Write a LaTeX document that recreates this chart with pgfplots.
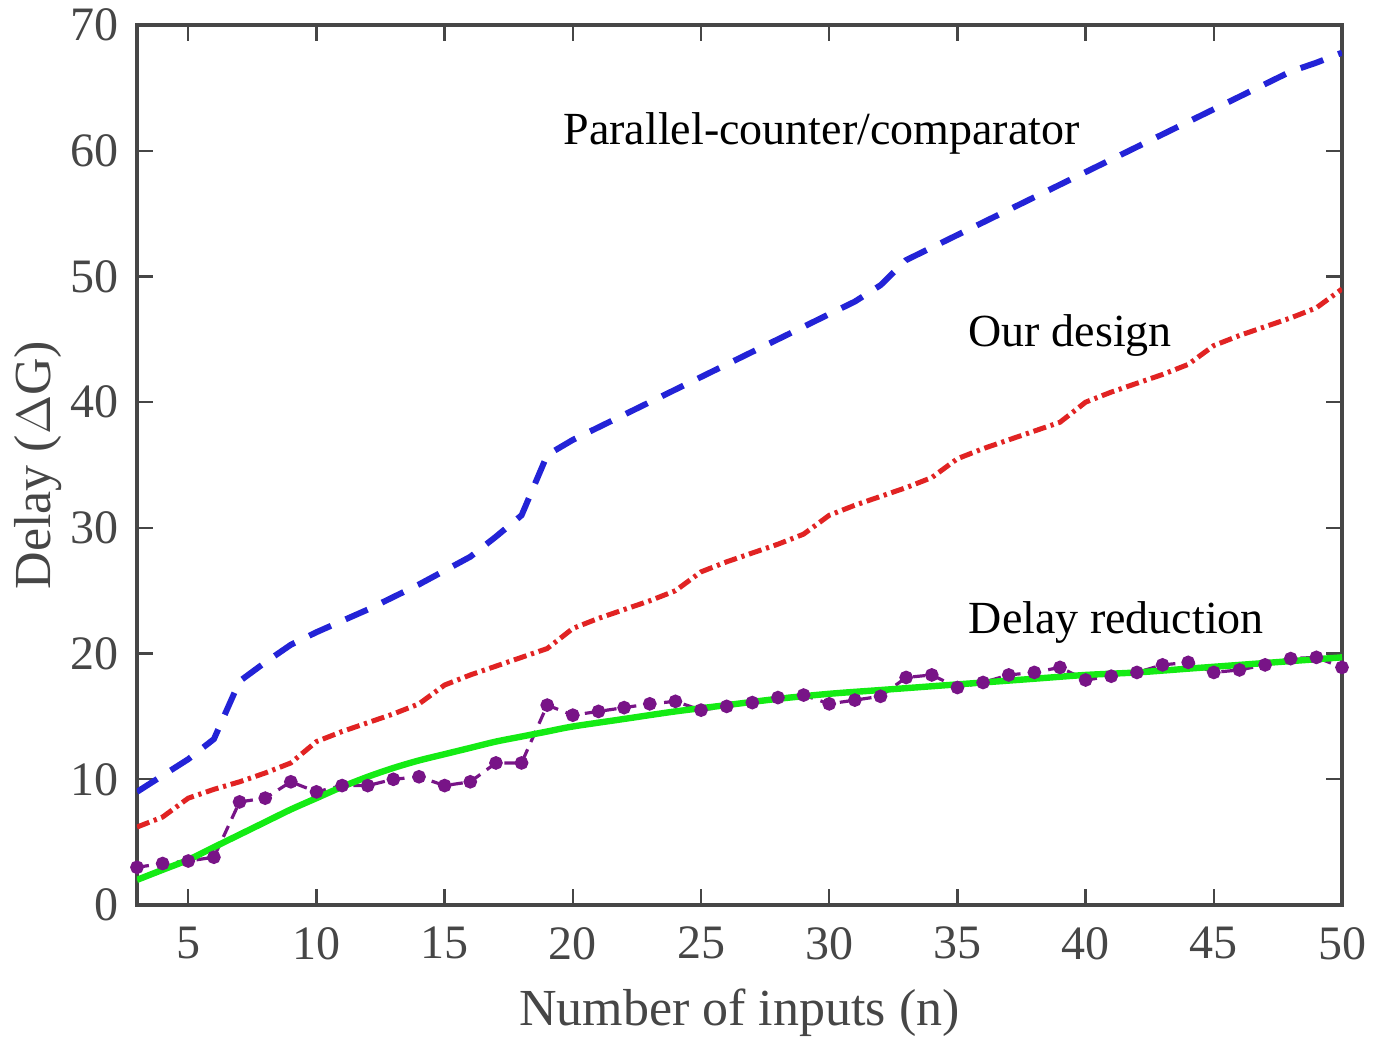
\documentclass[border=0pt]{standalone}
\usepackage{pgfplots}
\pgfplotsset{compat=1.18}
\usepackage{fontspec}
\setmainfont{Liberation Serif}
\definecolor{cblue}{RGB}{35,35,215}
\definecolor{cred}{RGB}{225,35,35}
\definecolor{cpurple}{RGB}{120,20,135}
\definecolor{cgreen}{RGB}{20,235,20}
\definecolor{caxis}{RGB}{70,70,70}
\begin{document}
\begin{tikzpicture}
\begin{axis}[
  scale only axis,
  width=301.25pt, height=220pt,
  xmin=3, xmax=50, ymin=0, ymax=70,
  xtick={5,10,...,50}, ytick={0,10,...,70},
  tick align=inside,
  major tick length=4pt,
  axis line style={caxis, line width=0.8pt},
  every tick/.style={caxis, line width=0.6pt},
  tick label style={font=\fontsize{12}{14}\selectfont, text=caxis},
  /pgf/number format/assume math mode=true,
  xticklabel style={yshift=-2pt},
  yticklabel style={xshift=-1pt},
  xlabel={Number of inputs (n)},
  ylabel={Delay ($\Delta$G)},
  label style={font=\fontsize{13}{15}\selectfont, text=caxis},
  xlabel style={yshift=-0.5pt},
  ylabel style={yshift=-4.5pt},
  clip=true,
]
% Parallel-counter/comparator
\addplot[cblue, line width=1.5pt, dash pattern=on 6pt off 4pt] coordinates {
(3,9.0)(4,10.3)(5,11.6)(6,13.2)(7,17.8)(8,19.3)(9,20.7)(10,21.7)(11,22.6)(12,23.5)
(13,24.5)(14,25.5)(15,26.6)(16,27.7)(17,29.3)(18,31.0)(19,35.8)(20,37.0)(21,38.0)
(22,39.0)(23,40.0)(24,41.0)(25,42.0)(26,43.0)(27,44.0)(28,45.0)(29,46.0)(30,47.0)
(31,48.0)(32,49.3)(33,51.3)(34,52.3)(35,53.3)(36,54.3)(37,55.3)(38,56.3)(39,57.3)
(40,58.3)(41,59.3)(42,60.3)(43,61.3)(44,62.3)(45,63.3)(46,64.3)(47,65.3)(48,66.3)
(49,67.0)(50,67.8)};
% Our design
\addplot[cred, line width=1.25pt, dash pattern=on 3.3pt off 1.2pt on 0.8pt off 1.2pt] coordinates {
(3,6.2)(4,7.0)(5,8.5)(6,9.2)(7,9.8)(8,10.5)(9,11.3)(10,13.0)(11,13.8)(12,14.5)
(13,15.2)(14,16.0)(15,17.5)(16,18.3)(17,19.0)(18,19.7)(19,20.4)(20,22.0)(21,22.8)
(22,23.5)(23,24.2)(24,25.0)(25,26.5)(26,27.3)(27,28.0)(28,28.7)(29,29.5)(30,31.0)
(31,31.8)(32,32.5)(33,33.2)(34,34.0)(35,35.5)(36,36.3)(37,37.0)(38,37.7)(39,38.4)
(40,40.0)(41,40.8)(42,41.5)(43,42.2)(44,43.0)(45,44.5)(46,45.3)(47,46.0)(48,46.7)
(49,47.5)(50,49.0)};
% Delay reduction (data)
\addplot[cpurple, line width=0.8pt, dash pattern=on 3pt off 2pt, mark=*, mark size=1.3pt,
  mark options={solid, fill=cpurple}] coordinates {
(3,3.0)(4,3.3)(5,3.5)(6,3.8)(7,8.2)(8,8.5)(9,9.8)(10,9.0)(11,9.5)(12,9.5)
(13,10.0)(14,10.2)(15,9.5)(16,9.8)(17,11.3)(18,11.3)(19,15.9)(20,15.1)(21,15.4)
(22,15.7)(23,16.0)(24,16.2)(25,15.5)(26,15.8)(27,16.1)(28,16.5)(29,16.7)(30,16.0)
(31,16.3)(32,16.6)(33,18.1)(34,18.3)(35,17.3)(36,17.7)(37,18.3)(38,18.5)(39,18.9)
(40,17.9)(41,18.2)(42,18.5)(43,19.1)(44,19.3)(45,18.5)(46,18.7)(47,19.1)(48,19.6)
(49,19.7)(50,18.9)};
% Delay reduction (fit)
\addplot[cgreen, line width=1.6pt, smooth] coordinates {
(3,2.0)(4,2.8)(5,3.6)(6,4.6)(7,5.6)(8,6.6)(9,7.6)(10,8.5)(11,9.4)(12,10.2)
(13,10.9)(14,11.5)(15,12.0)(16,12.5)(17,13.0)(18,13.4)(19,13.8)(20,14.2)(22,14.8)
(24,15.4)(26,15.9)(28,16.4)(30,16.8)(32,17.1)(34,17.4)(36,17.7)(38,18.0)(40,18.3)
(42,18.5)(44,18.8)(46,19.1)(48,19.4)(50,19.7)};
\node[font=\fontsize{11.5}{13}\selectfont] at (axis cs:29.7,61.4) {Parallel-counter/comparator};
\node[font=\fontsize{11.5}{13}\selectfont] at (axis cs:39.4,45.3) {Our design};
\node[font=\fontsize{11.5}{13}\selectfont] at (axis cs:41.2,22.5) {Delay reduction};
\end{axis}
\pgfresetboundingbox
\path[use as bounding box] ([xshift=-34.25pt, yshift=-33pt]current axis.south west) rectangle ([xshift=8pt, yshift=6.25pt]current axis.north east);
\end{tikzpicture}
\end{document}
